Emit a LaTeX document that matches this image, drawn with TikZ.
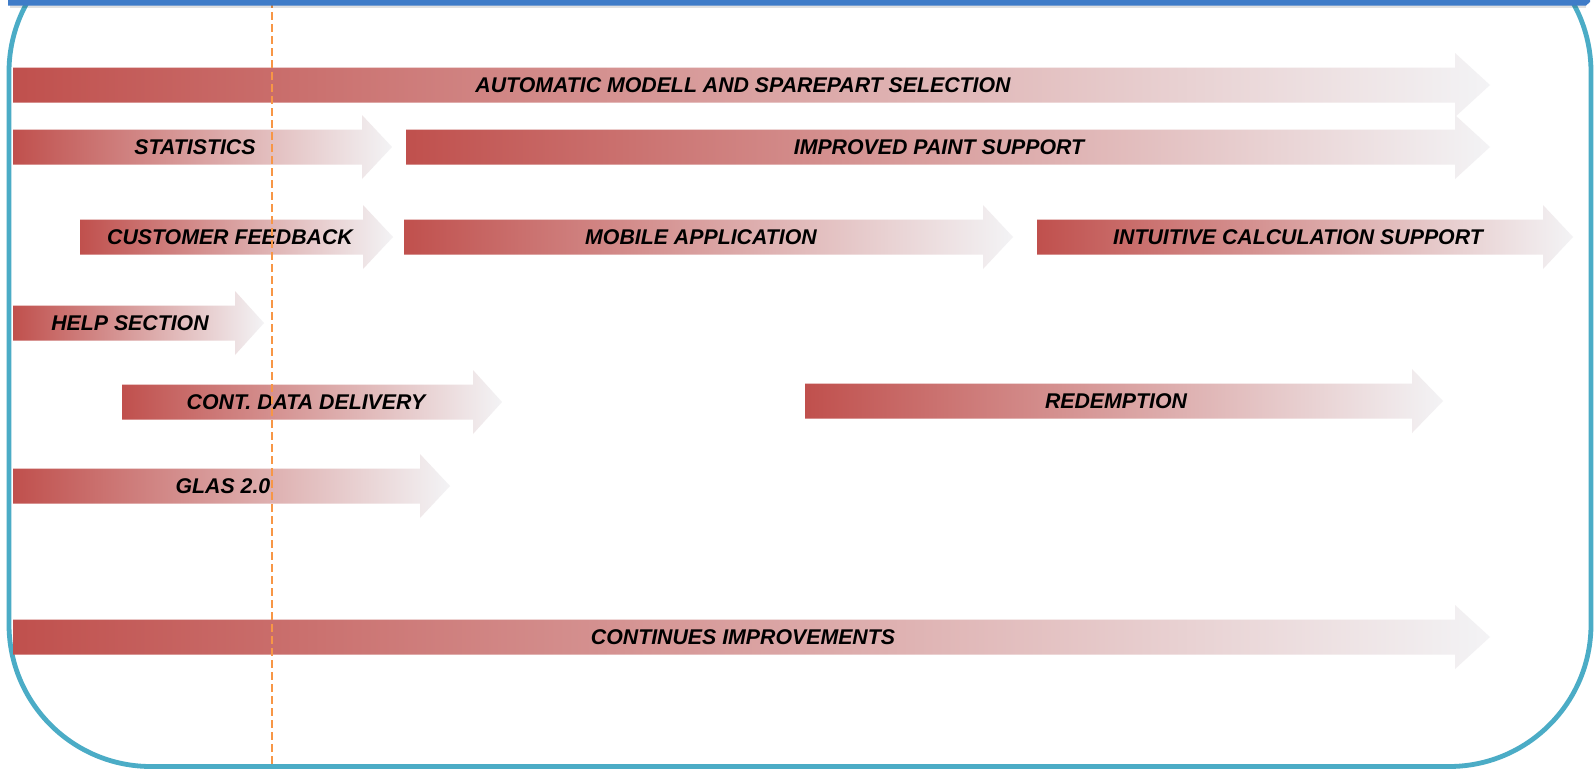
\documentclass[tikz,border=0pt]{standalone}
\usepackage{fontspec}
\setmainfont{Liberation Sans}
\definecolor{arrred}{RGB}{192,80,77}
\definecolor{arrgray}{RGB}{243,243,245}
\definecolor{barblue}{RGB}{63,124,200}
\definecolor{frameteal}{RGB}{75,172,198}
\definecolor{dashorange}{RGB}{247,150,70}
\tikzset{
  lbl/.style={font=\bfseries\itshape\fontsize{21.3}{25}\selectfont, text=black, inner sep=0pt},
  frame/.style={draw=frameteal, line width=4.8pt, rounded corners=142pt},
  todayline/.style={draw=dashorange, line width=2.8pt, dash pattern=on 8pt off 4pt}
}
\newcommand\rmarrow[7]{%
  \shade[left color=arrred,right color=arrgray]
    (#2,#5-17.5) -- (#3,#5-17.5) -- (#3,#5-32) -- (#4,#5) -- (#3,#5+32)
    -- (#3,#5+17.5) -- (#2,#5+17.5) -- cycle;
  \node[lbl] (#1) at (#6,#5) {#7};
}
\begin{document}
\begin{tikzpicture}[x=1pt,y=-1pt]
\useasboundingbox (0,0) rectangle (1595,769);
\clip (0,0) rectangle (1595,769);
\fill[white] (0,0) rectangle (1595,769);
% frame
\draw[frame] (9,-70) rectangle (1591,766.5);
% arrows
\rmarrow{auto}{13}{1455}{1490}{85}{743}{AUTOMATIC MODELL AND SPAREPART SELECTION}
\rmarrow{stat}{13}{362}{392}{147}{195}{STATISTICS}
\rmarrow{paint}{406}{1455}{1490}{147}{939}{IMPROVED PAINT SUPPORT}
\rmarrow{feedback}{80}{363}{393}{237}{230}{CUSTOMER FEEDBACK}
\rmarrow{mobile}{404}{983}{1013}{237}{701}{MOBILE APPLICATION}
\rmarrow{calc}{1037}{1543}{1573}{237}{1298}{INTUITIVE CALCULATION SUPPORT}
\rmarrow{help}{13}{235}{264}{323}{130}{HELP SECTION}
\rmarrow{cdd}{122}{473}{502}{402}{306}{CONT. DATA DELIVERY}
\rmarrow{redemption}{805}{1412}{1443}{401}{1116}{REDEMPTION}
\rmarrow{glas}{13}{420}{450}{486}{223}{GLAS 2.0}
\rmarrow{cont}{13}{1455}{1490}{637}{743}{CONTINUES IMPROVEMENTS}
% today line
\coordinate (todaytop) at (272,0);
\coordinate (todaybot) at (272,765);
\draw[todayline] (todaytop) -- (todaybot);
% top bar
\fill[black,opacity=0.12] (10,5) rectangle (1586,8);
\fill[barblue] (8,-5) -- (1590,-5) -- (1590,2) -- (1586,5.5) -- (8,5.5) -- cycle;
\end{tikzpicture}
\end{document}
